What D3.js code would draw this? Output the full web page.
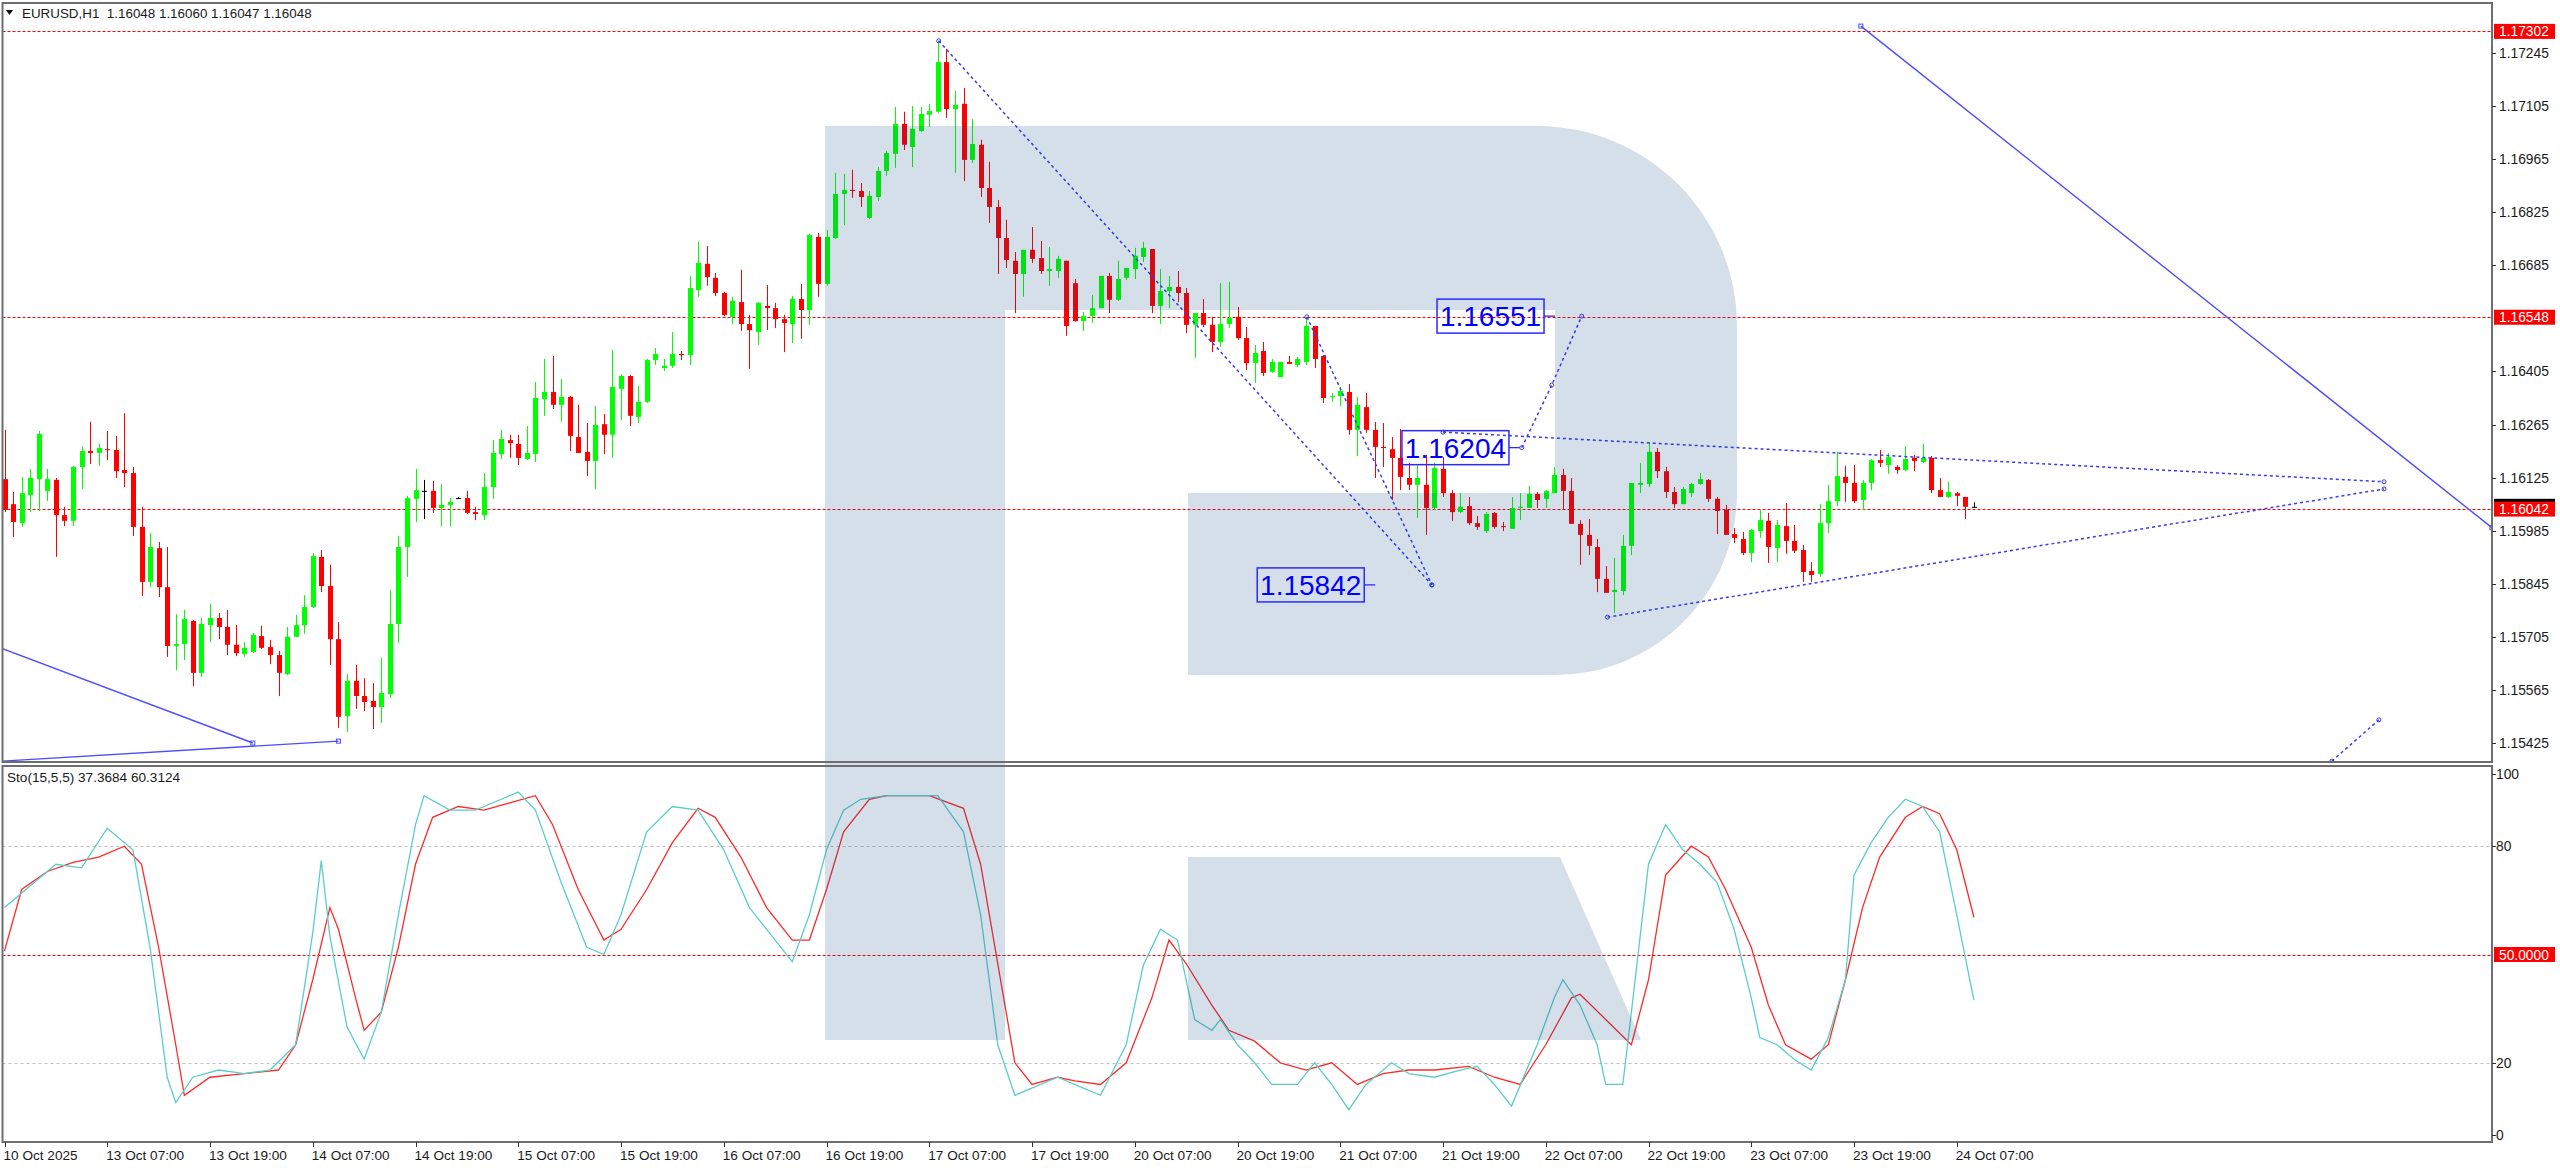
<!DOCTYPE html>
<html><head><meta charset="utf-8">
<script src="https://cdn.jsdelivr.net/npm/d3@7"></script>
<style>
html,body{margin:0;padding:0;background:#fff;}
svg{display:block;}
text{font-family:"Liberation Sans",Arial,sans-serif;}
</style></head><body>
<svg id="c" width="2560" height="1168"></svg>
<script>
// ---------- DATA ----------
const symbolHeader = "EURUSD,H1  1.16048 1.16060 1.16047 1.16048";
const stochHeader = "Sto(15,5,5) 37.3684 60.3124";
// hourly bars, index 0 = 10 Oct 19:00
const openP = [1.16121,1.16055,1.16005,1.16079,1.16121,1.16090,1.16119,1.16026,1.16011,1.16153,1.16195,1.16190,1.16200,1.16198,1.16145,1.16137,1.15995,1.15850,1.15939,1.15836,1.15681,1.15686,1.15747,1.15610,1.15736,1.15755,1.15731,1.15684,1.15660,1.15665,1.15707,1.15678,1.15657,1.15607,1.15705,1.15736,1.15784,1.15916,1.15839,1.15699,1.15496,1.15589,1.15549,1.15536,1.15520,1.15554,1.15739,1.15942,1.16069,1.16090,1.16090,1.16045,1.16053,1.16071,1.16071,1.16034,1.16026,1.16100,1.16187,1.16224,1.16214,1.16174,1.16187,1.16332,1.16351,1.16317,1.16338,1.16232,1.16193,1.16169,1.16266,1.16238,1.16359,1.16393,1.16285,1.16325,1.16435,1.16414,1.16420,1.16451,1.16448,1.16620,1.16689,1.16652,1.16612,1.16549,1.16588,1.16530,1.16509,1.16578,1.16572,1.16543,1.16530,1.16596,1.16567,1.16760,1.16636,1.16757,1.16873,1.16884,1.16881,1.16810,1.16865,1.16934,1.16979,1.17058,1.16997,1.17039,1.17082,1.17090,1.17221,1.17097,1.17111,1.16963,1.17003,1.16889,1.16839,1.16757,1.16697,1.16662,1.16726,1.16704,1.16670,1.16670,1.16697,1.16638,1.16538,1.16551,1.16572,1.16657,1.16594,1.16652,1.16675,1.16707,1.16728,1.16578,1.16617,1.16628,1.16612,1.16528,1.16559,1.16528,1.16483,1.16530,1.16549,1.16493,1.16427,1.16459,1.16404,1.16390,1.16430,1.16422,1.16430,1.16525,1.16446,1.16338,1.16340,1.16351,1.16251,1.16311,1.16251,1.16206,1.16200,1.16177,1.16124,1.16106,1.16106,1.16045,1.16148,1.16084,1.16034,1.16050,1.16005,1.15984,1.16032,1.15997,1.15990,1.16045,1.16045,1.16082,1.16069,1.16084,1.16132,1.16090,1.16003,1.15974,1.15942,1.15858,1.15823,1.15826,1.15945,1.16106,1.16108,1.16193,1.16142,1.16087,1.16055,1.16084,1.16108,1.16119,1.16069,1.16040,1.15976,1.15963,1.15926,1.15984,1.16011,1.15939,1.15997,1.15958,1.15934,1.15879,1.15871,1.16005,1.16063,1.16127,1.16111,1.16066,1.16111,1.16171,1.16158,1.16153,1.16145,1.16177,1.16166,1.16177,1.16092,1.16074,1.16084,1.16074,1.16048];
const highP = [1.16251,1.16087,1.16127,1.16148,1.16248,1.16148,1.16124,1.16048,1.16156,1.16208,1.16272,1.16214,1.16248,1.16235,1.16295,1.16153,1.16048,1.15979,1.15955,1.15942,1.15765,1.15776,1.15749,1.15755,1.15792,1.15768,1.15776,1.15736,1.15691,1.15715,1.15734,1.15697,1.15668,1.15731,1.15763,1.15815,1.15926,1.15934,1.15895,1.15744,1.15607,1.15631,1.15596,1.15583,1.15649,1.15829,1.15971,1.16077,1.16148,1.16119,1.16116,1.16108,1.16071,1.16074,1.16090,1.16048,1.16137,1.16224,1.16251,1.16238,1.16238,1.16261,1.16377,1.16438,1.16446,1.16385,1.16340,1.16317,1.16269,1.16314,1.16293,1.16462,1.16398,1.16396,1.16367,1.16438,1.16467,1.16438,1.16509,1.16459,1.16657,1.16747,1.16736,1.16665,1.16615,1.16602,1.16673,1.16554,1.16588,1.16633,1.16586,1.16554,1.16604,1.16636,1.16768,1.16770,1.16778,1.16929,1.16926,1.16937,1.16902,1.16881,1.16944,1.16987,1.17103,1.17090,1.17105,1.17103,1.17111,1.17277,1.17256,1.17145,1.17153,1.17071,1.17016,1.16958,1.16857,1.16805,1.16720,1.16726,1.16786,1.16749,1.16733,1.16710,1.16697,1.16649,1.16562,1.16607,1.16657,1.16665,1.16697,1.16678,1.16731,1.16747,1.16728,1.16675,1.16657,1.16670,1.16625,1.16559,1.16596,1.16549,1.16638,1.16641,1.16575,1.16522,1.16475,1.16483,1.16438,1.16430,1.16446,1.16443,1.16549,1.16525,1.16448,1.16348,1.16364,1.16372,1.16338,1.16348,1.16272,1.16269,1.16232,1.16253,1.16164,1.16158,1.16185,1.16164,1.16179,1.16092,1.16084,1.16074,1.16024,1.16034,1.16034,1.16008,1.16074,1.16084,1.16103,1.16087,1.16092,1.16153,1.16148,1.16124,1.16013,1.16016,1.15963,1.15892,1.15913,1.15974,1.16111,1.16164,1.16219,1.16203,1.16153,1.16100,1.16100,1.16111,1.16137,1.16121,1.16074,1.16053,1.15992,1.15982,1.15990,1.16040,1.16032,1.16013,1.16058,1.16000,1.15947,1.15902,1.16055,1.16106,1.16193,1.16156,1.16158,1.16119,1.16174,1.16198,1.16190,1.16158,1.16208,1.16185,1.16214,1.16182,1.16124,1.16114,1.16087,1.16074,1.16060];
const lowP = [1.16034,1.15968,1.15995,1.16034,1.16037,1.16063,1.15916,1.15997,1.15997,1.16095,1.16161,1.16156,1.16171,1.16124,1.16100,1.15971,1.15813,1.15836,1.15810,1.15652,1.15617,1.15644,1.15575,1.15599,1.15691,1.15699,1.15657,1.15654,1.15652,1.15662,1.15673,1.15633,1.15549,1.15604,1.15705,1.15713,1.15781,1.15823,1.15631,1.15465,1.15454,1.15515,1.15509,1.15462,1.15478,1.15544,1.15689,1.15863,1.16008,1.16016,1.16032,1.15997,1.15997,1.16069,1.16029,1.16013,1.16013,1.16069,1.16174,1.16177,1.16158,1.16171,1.16166,1.16288,1.16306,1.16272,1.16195,1.16190,1.16129,1.16095,1.16187,1.16177,1.16277,1.16261,1.16269,1.16322,1.16422,1.16406,1.16414,1.16435,1.16422,1.16602,1.16631,1.16604,1.16551,1.16530,1.16512,1.16412,1.16475,1.16514,1.16520,1.16456,1.16480,1.16491,1.16528,1.16602,1.16631,1.16754,1.16791,1.16863,1.16839,1.16807,1.16855,1.16921,1.16942,1.16989,1.16944,1.17037,1.17050,1.17087,1.17074,1.16929,1.16907,1.16955,1.16865,1.16797,1.16662,1.16678,1.16559,1.16602,1.16691,1.16662,1.16631,1.16652,1.16499,1.16536,1.16512,1.16533,1.16572,1.16559,1.16591,1.16646,1.16649,1.16694,1.16559,1.16530,1.16572,1.16588,1.16506,1.16441,1.16522,1.16456,1.16470,1.16520,1.16488,1.16409,1.16375,1.16393,1.16401,1.16390,1.16425,1.16417,1.16422,1.16414,1.16322,1.16325,1.16314,1.16238,1.16182,1.16243,1.16124,1.16153,1.16066,1.16092,1.16092,1.16019,1.15974,1.16040,1.16074,1.16011,1.16032,1.16000,1.15987,1.15979,1.15990,1.15984,1.15990,1.16013,1.16045,1.16045,1.16045,1.16084,1.16040,1.16003,1.15895,1.15921,1.15823,1.15821,1.15768,1.15815,1.15921,1.16084,1.16100,1.16124,1.16071,1.16045,1.16055,1.16074,1.16106,1.16061,1.15976,1.15974,1.15953,1.15921,1.15902,1.15966,1.15900,1.15902,1.15924,1.15926,1.15850,1.15850,1.15863,1.15979,1.16050,1.16061,1.16058,1.16040,1.16092,1.16153,1.16135,1.16135,1.16142,1.16142,1.16164,1.16084,1.16074,1.16071,1.16050,1.16016,1.16047];
const closeP = [1.16040,1.16008,1.16084,1.16124,1.16240,1.16121,1.16026,1.16011,1.16153,1.16195,1.16190,1.16203,1.16198,1.16142,1.16137,1.15995,1.15850,1.15942,1.15836,1.15681,1.15686,1.15752,1.15610,1.15739,1.15755,1.15731,1.15684,1.15662,1.15676,1.15710,1.15676,1.15657,1.15610,1.15705,1.15736,1.15784,1.15918,1.15839,1.15699,1.15494,1.15589,1.15549,1.15533,1.15520,1.15557,1.15739,1.15942,1.16071,1.16092,1.16090,1.16045,1.16053,1.16061,1.16071,1.16032,1.16029,1.16100,1.16190,1.16227,1.16216,1.16177,1.16190,1.16335,1.16351,1.16317,1.16338,1.16235,1.16190,1.16169,1.16264,1.16238,1.16364,1.16393,1.16288,1.16325,1.16435,1.16451,1.16420,1.16451,1.16448,1.16625,1.16691,1.16654,1.16612,1.16554,1.16591,1.16530,1.16514,1.16586,1.16572,1.16543,1.16533,1.16596,1.16567,1.16765,1.16636,1.16760,1.16873,1.16884,1.16881,1.16865,1.16868,1.16934,1.16981,1.17058,1.17003,1.17045,1.17084,1.17092,1.17221,1.17097,1.17108,1.16963,1.17005,1.16889,1.16839,1.16757,1.16699,1.16662,1.16726,1.16702,1.16670,1.16675,1.16702,1.16525,1.16538,1.16551,1.16572,1.16657,1.16594,1.16649,1.16678,1.16710,1.16731,1.16578,1.16617,1.16628,1.16612,1.16528,1.16559,1.16528,1.16483,1.16530,1.16546,1.16493,1.16427,1.16454,1.16401,1.16430,1.16430,1.16425,1.16438,1.16525,1.16438,1.16335,1.16340,1.16354,1.16251,1.16317,1.16251,1.16206,1.16203,1.16177,1.16127,1.16106,1.16124,1.16045,1.16150,1.16084,1.16034,1.16048,1.16005,1.15995,1.16029,1.15995,1.15995,1.16045,1.16048,1.16082,1.16066,1.16090,1.16132,1.16090,1.16003,1.15974,1.15945,1.15858,1.15821,1.15829,1.15945,1.16111,1.16111,1.16193,1.16142,1.16087,1.16055,1.16095,1.16108,1.16121,1.16069,1.16037,1.15974,1.15966,1.15926,1.15987,1.16013,1.15942,1.16000,1.15958,1.15932,1.15876,1.15868,1.16005,1.16063,1.16129,1.16111,1.16063,1.16111,1.16171,1.16164,1.16179,1.16145,1.16174,1.16169,1.16177,1.16092,1.16074,1.16087,1.16077,1.16048,1.16048];

// Stochastic (15,5,5) read at bar indices
const stoMainIdx = [0,6,9,12,15,17,19,20,22,25,28,31,34,36,37,38,40,42,44,46,48,49,52,55,58,60,62,65,68,70,72,75,78,81,84,87,90,92,94,96,98,100,103,106,109,112,114,116,118,121,123,126,128,131,133,135,137,139,141,142,144,146,148,151,153,155,157,159,162,164,167,170,172,174,176,179,181,182,184,186,187,189,190,192,194,196,198,200,202,204,205,207,209,211,213,215,216,218,220,222,224,226,228,230];
const stoMainVal = [63,75,74,85,79,52,16,9,16,18,17,18,25,56,76,55,30,21,34,61,86,94,90,90,93,95,90,70,52,50,61,84,91,90,79,63,54,48,61,79,90,93,94,94,94,84,61,25,11,14,16,13,11,25,47,57,54,32,29,32,25,20,14,14,20,14,7,14,20,17,16,18,19,14,8,25,38,43,36,25,14,14,34,75,86,79,75,70,57,38,27,25,21,18,27,43,72,81,88,93,91,84,61,37.3684];
const stoSigIdx = [0,2,5,8,11,14,16,18,20,21,24,28,32,34,36,38,39,41,42,44,46,48,50,53,56,59,62,64,67,70,72,75,78,81,83,86,89,92,94,96,98,101,103,108,112,114,116,118,120,123,125,128,131,134,136,138,141,143,146,149,152,155,158,161,164,167,171,174,177,180,183,184,187,190,192,194,197,199,201,204,206,208,211,213,215,217,219,222,224,226,228,230];
const stoSigVal = [51,68,73,75.5,77,80,75,52,25,11,16,17,18,25,43,63,57,38,29,34,52,75,88,91,90,92,94,86,68,54,57,68,81,90.5,88,77,63,54,54,68,84,93,94,94,90.5,75,47.5,20,14,16,15,14,20,38,54,47.5,36,29,26,20,18,20,14,17,18,18,19,16,14,25,38,39,32,25,43,72,80,77,68,52,36,25,21,25,43,63,77,88,91,89,79,60.3124];

// axis tick labels
const priceTicks = [1.17245,1.17105,1.16965,1.16825,1.16685,1.16405,1.16265,1.16125,1.15985,1.15845,1.15705,1.15565,1.15425];
const timeIdx = [0,12,24,36,48,60,72,84,96,108,120,132,144,156,168,180,192,204,216,228];
const timeLabels = ["10 Oct 2025","13 Oct 07:00","13 Oct 19:00","14 Oct 07:00","14 Oct 19:00","15 Oct 07:00","15 Oct 19:00","16 Oct 07:00","16 Oct 19:00","17 Oct 07:00","17 Oct 19:00","20 Oct 07:00","20 Oct 19:00","21 Oct 07:00","21 Oct 19:00","22 Oct 07:00","22 Oct 19:00","23 Oct 07:00","23 Oct 19:00","24 Oct 07:00"];
const stoTicks = [100,80,20,0];
// horizontal price levels (red dashed)
const hLevels = [1.17302,1.16548,1.16042];
const bidPrice = 1.16048;
// drawn objects: [barIndex, price]
const solidLines = [
  [[-0.53,1.15676],[29,1.15425]],
  [[-0.53,1.15377],[39,1.15430]],
  [[216.8,1.17316],[290.5,1.15993]]
];
const dottedLines = [
  [[109.1,1.17277],[166.7,1.15842]],
  [[152.1,1.16549],[166.7,1.15842]],
  [[177.2,1.16204],[180.7,1.16369],[184.2,1.16551]],
  [[168,1.16245],[277.9,1.16114]],
  [[187.2,1.15757],[277.9,1.16095]],
  [[271.8,1.15377],[277.3,1.15486]]
];
const boxLabels = [1.16551,1.16204,1.15842];
const boxAnchorIdx = [179.8,175.7,158.8];

// ---------- LAYOUT ----------
const PL=2.5, PR=2492, MT=3, MB=762, ST=766, SB=1142;
const svg=d3.select('#c');
const x=d3.scaleLinear().domain([0,230]).range([4.5,4.5+230*8.5625]);
const y=d3.scaleLinear().domain([1.15425,1.17245]).range([743,53]);
const ys=d3.scaleLinear().domain([0,100]).range([1135,774]);
const defs=svg.append('defs');
defs.append('clipPath').attr('id','cm').append('rect').attr('x',PL).attr('y',MT).attr('width',PR-PL).attr('height',MB-MT);
defs.append('clipPath').attr('id','cs').append('rect').attr('x',PL).attr('y',ST).attr('width',PR-PL).attr('height',SB-ST);

svg.append('rect').attr('width',2560).attr('height',1168).attr('fill','#fff');
const gm=svg.append('g').attr('clip-path','url(#cm)');
const gs=svg.append('g').attr('clip-path','url(#cs)');

// red dashed levels
gm.selectAll('.lvl').data(hLevels).enter().append('line')
  .attr('x1',PL).attr('x2',PR).attr('y1',d=>Math.round(y(d))+0.5).attr('y2',d=>Math.round(y(d))+0.5)
  .attr('stroke','#ff0000').attr('stroke-width',1).attr('stroke-dasharray','3,2');

// stoch levels
gs.selectAll('.sl').data([80,20]).enter().append('line')
  .attr('x1',PL).attr('x2',PR).attr('y1',d=>Math.round(ys(d))+0.5).attr('y2',d=>Math.round(ys(d))+0.5)
  .attr('stroke','#c0c0c0').attr('stroke-dasharray','3,3');
gs.append('line').attr('x1',PL).attr('x2',PR).attr('y1',Math.round(ys(50))+0.5).attr('y2',Math.round(ys(50))+0.5)
  .attr('stroke','#ff0000').attr('stroke-dasharray','3,2');

// candles
const bars=d3.range(openP.length).map(i=>({i,o:openP[i],h:highP[i],l:lowP[i],c:closeP[i]}));
const col=d=>d.c>d.o?'#00ff00':(d.c<d.o?'#ff0000':'#000000');
const cg=gm.append('g');
cg.selectAll('.w').data(bars).enter().append('line')
  .attr('x1',d=>Math.round(x(d.i))+0.5).attr('x2',d=>Math.round(x(d.i))+0.5)
  .attr('y1',d=>y(d.h)).attr('y2',d=>y(d.l)).attr('stroke',col).attr('stroke-width',1);
cg.selectAll('.b').data(bars).enter().append('rect')
  .attr('x',d=>Math.round(x(d.i))-2).attr('width',5)
  .attr('y',d=>Math.min(y(d.o),y(d.c))).attr('height',d=>Math.max(1,Math.abs(y(d.o)-y(d.c))))
  .attr('fill',col);

// stochastic lines
const ln=d3.line().x(d=>x(d[0])).y(d=>ys(d[1]));
gs.append('path').datum(stoSigIdx.map((v,k)=>[v,stoSigVal[k]])).attr('d',ln).attr('fill','none').attr('stroke','#ff2a2a').attr('stroke-width',1.3);
gs.append('path').datum(stoMainIdx.map((v,k)=>[v,stoMainVal[k]])).attr('d',ln).attr('fill','none').attr('stroke','#5ccdc6').attr('stroke-width',1.3);

// drawn objects
const lp=d3.line().x(d=>x(d[0])).y(d=>y(d[1]));
solidLines.forEach(s=>{
  gm.append('path').attr('d',lp(s)).attr('fill','none').attr('stroke','#4d4dff').attr('stroke-width',1.4);
  [s[0],s[s.length-1]].forEach(p=>gm.append('rect').attr('x',x(p[0])-2).attr('y',y(p[1])-2).attr('width',4).attr('height',4).attr('fill','none').attr('stroke','#4d4dff').attr('stroke-width',1));
});
dottedLines.forEach(s=>{
  gm.append('path').attr('d',lp(s)).attr('fill','none').attr('stroke','#3b3bf0').attr('stroke-width',1.5).attr('stroke-dasharray','3,3');
  s.forEach(p=>gm.append('circle').attr('cx',x(p[0])).attr('cy',y(p[1])).attr('r',2).attr('fill','none').attr('stroke','#3b3bf0').attr('stroke-width',1));
});

// watermark (semi-transparent overlay)
const wm=svg.append('g').attr('fill','rgb(8,67,131)').attr('fill-opacity',0.17);
wm.append('path').attr('d','M825,126 H1537 A200,200 0 0 1 1737,326 V493 A182,182 0 0 1 1555,675 H1188 V493 H1555 V310 H1005 V1040 H825 Z');
wm.append('path').attr('d','M1188,857 H1560 L1641,1040 H1188 Z');

// price box labels
boxLabels.forEach((v,k)=>{
  const xr=x(boxAnchorIdx[k]), yc=y(v);
  svg.append('rect').attr('x',xr-107).attr('y',yc-17).attr('width',107).attr('height',34).attr('fill','none').attr('stroke','#2b2bff').attr('stroke-width',1.5);
  svg.append('line').attr('x1',xr).attr('x2',xr+11).attr('y1',yc).attr('y2',yc).attr('stroke','#2b2bff').attr('stroke-width',1.3);
  svg.append('text').attr('x',xr-53.5).attr('y',yc+10).attr('text-anchor','middle').attr('font-size',28).attr('fill','#0000ff').text(v.toFixed(5));
});

// frames
const fr=svg.append('g').attr('fill','none').attr('stroke','#6e6e6e').attr('stroke-width',2);
fr.append('rect').attr('x',PL).attr('y',MT).attr('width',PR-PL).attr('height',MB-MT);
fr.append('rect').attr('x',PL).attr('y',ST).attr('width',PR-PL).attr('height',SB-ST);

// price axis
const ax=svg.append('g');
ax.selectAll('.pt').data(priceTicks).enter().append('line').attr('x1',PR).attr('x2',PR+4).attr('y1',d=>Math.round(y(d))+0.5).attr('y2',d=>Math.round(y(d))+0.5).attr('stroke','#333');
ax.selectAll('.ptl').data(priceTicks).enter().append('text').attr('x',PR+7).attr('y',d=>y(d)+5).attr('font-size',13.8).attr('fill','#1a1a1a').text(d=>d.toFixed(5));
// bid (black) then red level labels
svg.append('rect').attr('x',PR+2).attr('y',y(bidPrice)-8).attr('width',61).attr('height',16).attr('fill','#000');
hLevels.forEach(v=>{
  svg.append('rect').attr('x',PR+2).attr('y',y(v)-7.5).attr('width',61).attr('height',15).attr('fill','#ff0000');
  svg.append('text').attr('x',PR+7).attr('y',y(v)+5).attr('font-size',13.8).attr('fill','#fff').text(v.toFixed(5));
});
// stoch axis
ax.selectAll('.st').data(stoTicks).enter().append('line').attr('x1',PR).attr('x2',PR+4).attr('y1',d=>Math.round(ys(d))+0.5).attr('y2',d=>Math.round(ys(d))+0.5).attr('stroke','#333');
ax.selectAll('.stl').data(stoTicks).enter().append('text').attr('x',PR+4).attr('y',d=>ys(d)+5).attr('font-size',13.8).attr('fill','#1a1a1a').text(d=>d);
svg.append('rect').attr('x',PR+2).attr('y',ys(50)-7.5).attr('width',61).attr('height',15).attr('fill','#ff0000');
svg.append('text').attr('x',PR+7).attr('y',ys(50)+5).attr('font-size',13.8).attr('fill','#fff').text((50).toFixed(4));

// time axis
ax.selectAll('.tt').data(timeIdx).enter().append('line').attr('x1',d=>Math.round(x(d))+0.5).attr('x2',d=>Math.round(x(d))+0.5).attr('y1',SB).attr('y2',SB+5).attr('stroke','#333');
ax.selectAll('.ttl').data(timeIdx).enter().append('text').attr('x',d=>x(d)-1).attr('y',1160).attr('font-size',13.6).attr('fill','#1a1a1a').text((d,k)=>timeLabels[k]);

// headers
svg.append('path').attr('d','M6,10 L13,10 L9.5,15 Z').attr('fill','#111');
svg.append('text').attr('x',22).attr('y',17.5).attr('font-size',13.4).attr('fill','#1a1a1a').attr('xml:space','preserve').style('white-space','pre').text(symbolHeader);
svg.append('text').attr('x',7).attr('y',782).attr('font-size',13.6).attr('fill','#1a1a1a').text(stochHeader);
</script>
</body></html>
